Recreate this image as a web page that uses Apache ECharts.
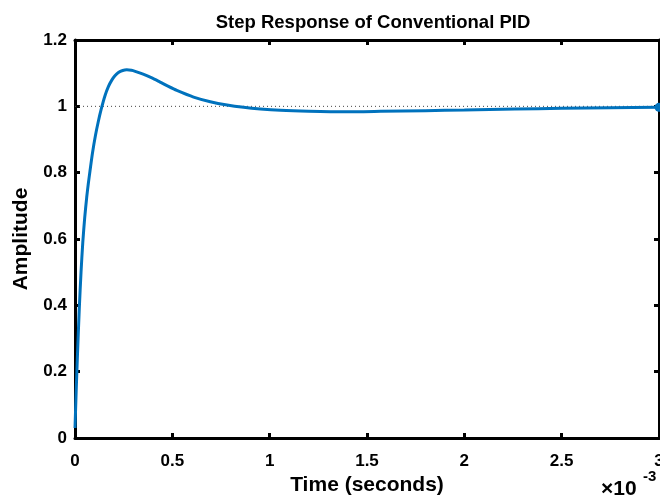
<!DOCTYPE html>
<html>
<head>
<meta charset="utf-8">
<script src="https://cdn.jsdelivr.net/npm/echarts@6/dist/echarts.min.js"></script>
<style>html,body{margin:0;padding:0;background:#fff;}#c{width:660px;height:496px;}</style>
</head>
<body>
<div id="c"></div>
<script>
// Time in units of 1e-3 seconds
const timeMs = [0, 0.006, 0.012, 0.022, 0.031, 0.040, 0.050, 0.060, 0.068, 0.077, 0.090, 0.105, 0.120, 0.134, 0.154, 0.172, 0.189, 0.205, 0.223, 0.245, 0.266, 0.290, 0.309, 0.350, 0.395, 0.437, 0.480, 0.523, 0.609, 0.695, 0.781, 0.866, 0.952, 1.055, 1.200, 1.312, 1.450, 1.570, 1.800, 2.000, 2.260, 2.500, 2.750, 3.000];
const amplitude = [0.03, 0.14, 0.24, 0.39, 0.50, 0.59, 0.665, 0.725, 0.765, 0.805, 0.86, 0.912, 0.955, 0.99, 1.032, 1.060, 1.079, 1.092, 1.102, 1.108, 1.110, 1.1085, 1.1055, 1.097, 1.0855, 1.073, 1.060, 1.048, 1.028, 1.014, 1.004, 0.997, 0.992, 0.988, 0.985, 0.984, 0.984, 0.985, 0.987, 0.989, 0.992, 0.994, 0.996, 0.997];
const steadyState = 1;
const xTicks = [0, 0.5, 1, 1.5, 2, 2.5, 3];
const yTicks = [0, 0.2, 0.4, 0.6, 0.8, 1, 1.2];
const titleText = 'Step Response of Conventional PID';
const xName = 'Time (seconds)';
const yName = 'Amplitude';
const exponentBase = '×10';
const exponentPower = '-3';

const FONT = '"Liberation Sans", Arial, Helvetica, sans-serif';
const xMin = xTicks[0], xMax = xTicks[xTicks.length - 1];
const yMin = yTicks[0], yMax = yTicks[yTicks.length - 1];

const lineData = timeMs.map((t, i) => {
  if (i === timeMs.length - 1) {
    return { value: [t, amplitude[i]], symbol: 'circle', symbolSize: 9 };
  }
  return [t, amplitude[i]];
});

const axisLine = { show: true, onZero: false, lineStyle: { color: '#000', width: 3 } };
const axisTick = { show: true, inside: true, length: 5, lineStyle: { color: '#000', width: 3 } };
const labelStyle = { color: '#000', fontFamily: FONT, fontWeight: 'bold', fontSize: 17 };

const chart = echarts.init(document.getElementById('c'), null, { renderer: 'canvas' });
chart.setOption({
  animation: false,
  backgroundColor: '#fff',
  title: {
    text: titleText,
    left: 368, top: 8, textAlign: 'center',
    textStyle: { color: '#000', fontFamily: FONT, fontWeight: 'bold', fontSize: 18.5 }
  },
  grid: { left: 75, top: 40, right: 1, bottom: 58, containLabel: false, outerBoundsMode: 'none' },
  xAxis: [
    {
      type: 'value', min: xMin, max: xMax, interval: 0.5, position: 'bottom',
      axisLine, axisTick, splitLine: { show: false },
      axisLabel: Object.assign({ margin: 15 }, labelStyle),
      name: xName, nameLocation: 'middle', nameGap: 37,
      nameTextStyle: { color: '#000', fontFamily: FONT, fontWeight: 'bold', fontSize: 21 }
    },
    {
      type: 'value', min: xMin, max: xMax, interval: 0.5, position: 'top',
      axisLine, axisTick, splitLine: { show: false }, axisLabel: { show: false }
    }
  ],
  yAxis: [
    {
      type: 'value', min: yMin, max: yMax, interval: 0.2, position: 'left',
      axisLine, axisTick, splitLine: { show: false },
      axisLabel: Object.assign({ margin: 8 }, labelStyle),
      name: yName, nameLocation: 'middle', nameGap: 43,
      nameTextStyle: { color: '#000', fontFamily: FONT, fontWeight: 'bold', fontSize: 21 }
    },
    {
      type: 'value', min: yMin, max: yMax, interval: 0.2, position: 'right',
      axisLine, axisTick, splitLine: { show: false }, axisLabel: { show: false }
    }
  ],
  series: [
    {
      name: 'Steady state', type: 'line', xAxisIndex: 0, yAxisIndex: 0,
      data: [[xMin, steadyState], [xMax, steadyState]],
      symbol: 'none', silent: true, z: 1,
      lineStyle: { color: '#444', width: 1, type: [1, 3] }
    },
    {
      name: 'Step response', type: 'line', xAxisIndex: 0, yAxisIndex: 0,
      data: lineData, smooth: 0.25, symbol: 'none', showSymbol: true, clip: true, z: 2,
      itemStyle: { color: '#0072BD' },
      lineStyle: { color: '#0072BD', width: 3 }
    }
  ],
  graphic: [
    { type: 'text', style: { text: exponentBase, x: 601, y: 489, fill: '#000', fontFamily: FONT, fontWeight: 'bold', fontSize: 21, textAlign: 'left', textVerticalAlign: 'middle' } },
    { type: 'text', style: { text: exponentPower, x: 643, y: 477, fill: '#000', fontFamily: FONT, fontWeight: 'bold', fontSize: 15, textAlign: 'left', textVerticalAlign: 'middle' } }
  ]
});
</script>
</body>
</html>
